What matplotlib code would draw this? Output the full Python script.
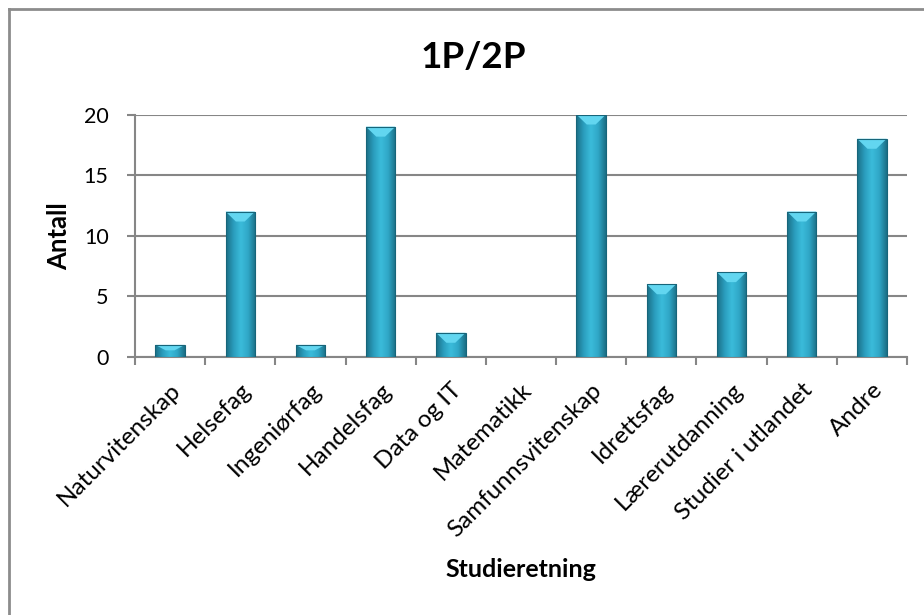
import numpy as np
import matplotlib
matplotlib.use("Agg")
import matplotlib.pyplot as plt
from matplotlib.colors import LinearSegmentedColormap
from matplotlib.lines import Line2D
from matplotlib.patches import Rectangle, Polygon

plt.rcParams["font.family"] = ["Lato", "DejaVu Sans"]

# ── Data ──────────────────────────────────────────────────────────────────────
categories = [
    "Naturvitenskap", "Helsefag", "Ingeniørfag", "Handelsfag", "Data og IT",
    "Matematikk", "Samfunnsvitenskap", "Idrettsfag", "Lærerutdanning",
    "Studier i utlandet", "Andre",
]
antall = [1, 12, 1, 19, 2, 0, 20, 6, 7, 12, 18]
y_ticks = [0, 5, 10, 15, 20]

title = "1P/2P"
x_label = "Studieretning"
y_label = "Antall"

# ── Style ─────────────────────────────────────────────────────────────────────
GRID = "#868686"
bar_cmap = LinearSegmentedColormap.from_list(
    "bevel", ["#1B6F86", "#2A9DBD", "#3BBCDB", "#2FA6C6", "#1B6F86"])
BEVEL_TOP = "#62D6F0"
BAR_WIDTH = 0.42

fig = plt.figure(figsize=(9.24, 6.15), dpi=100)
ax_h = 0.3943
ax = fig.add_axes([0.1461, 0.4195, 0.8355, ax_h])

n = len(categories)
ax.set_xlim(0, n)
ax.set_ylim(0, 20)

# pixel -> data conversion for the bevel depth
px_per_unit = (ax_h * 615) / 20.0

grad = np.linspace(0, 1, 64).reshape(1, -1)
for i, h in enumerate(antall):
    if h <= 0:
        continue
    xc = i + 0.5
    x0, x1 = xc - BAR_WIDTH / 2, xc + BAR_WIDTH / 2
    rect = Rectangle((x0, 0), BAR_WIDTH, h, facecolor="none",
                     edgecolor="#17657A", linewidth=0.8, zorder=4)
    ax.add_patch(rect)
    im = ax.imshow(grad, cmap=bar_cmap, extent=[x0, x1, 0, h],
                   aspect="auto", zorder=3, interpolation="bicubic")
    im.set_clip_path(rect)
    # light top facet, V-shaped
    d = min(10.0 / px_per_unit, 0.45 * h)
    inset = 0.35 * BAR_WIDTH
    bevel = Polygon([(x0, h), (x1, h), (x1 - inset, h - d), (x0 + inset, h - d)],
                    closed=True, facecolor=BEVEL_TOP, edgecolor="none", zorder=3.5)
    ax.add_patch(bevel)

# gridlines and axes
ax.set_yticks(y_ticks)
ax.yaxis.grid(True, color=GRID, linewidth=1.5)
ax.set_axisbelow(True)
for side in ["top", "right"]:
    ax.spines[side].set_visible(False)
for side in ["left", "bottom"]:
    ax.spines[side].set_color(GRID)
    ax.spines[side].set_linewidth(1.5)

ax.set_xticks(np.arange(n + 1))
ax.set_xticklabels([])
ax.set_xticks(np.arange(n) + 0.5, minor=True)
ax.set_xticklabels(categories, minor=True, rotation=45, ha="right",
                   va="top", rotation_mode="anchor", fontsize=17.5)
ax.tick_params(axis="x", which="major", length=6, width=1.5, color=GRID,
               direction="out")
ax.tick_params(axis="x", which="minor", length=0, pad=16)
ax.tick_params(axis="y", length=6, width=1.5, color=GRID, direction="out",
               labelsize=15.5, pad=13)

ax.set_ylabel(y_label, fontsize=18.5, fontweight="bold", va="center")
ax.yaxis.set_label_coords(-0.0984, 0.5)
ax.set_xlabel(x_label, fontsize=18, fontweight="bold", va="center")
ax.xaxis.set_label_coords(0.5, -0.8765)

fig.text(473 / 924, 1 - 57 / 615, title, fontsize=26.5, fontweight="bold",
         ha="center", va="center")

# chart area frame (left and top edges)
fig.add_artist(Line2D([9 / 924, 9 / 924], [0, 1 - 9 / 615],
                      transform=fig.transFigure, color="#8C8C8C", linewidth=2))
fig.add_artist(Line2D([9 / 924, 1], [1 - 9 / 615, 1 - 9 / 615],
                      transform=fig.transFigure, color="#8C8C8C", linewidth=2))

fig.savefig("out.png", dpi=100)
